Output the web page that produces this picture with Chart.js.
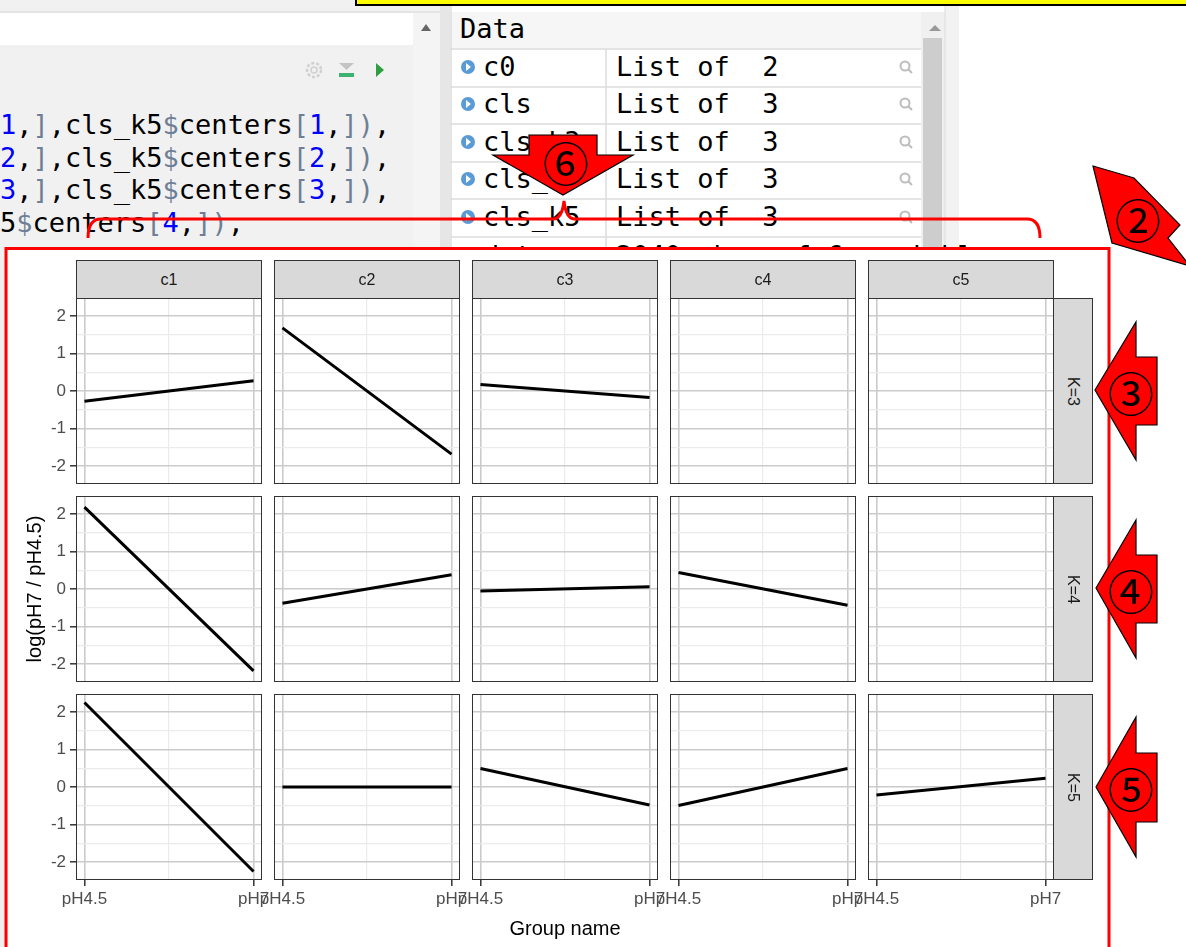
<!DOCTYPE html>
<html><head><meta charset="utf-8">
<script src="https://cdn.jsdelivr.net/npm/chart.js@4"></script>
<style>
body{margin:0;width:1186px;height:947px;overflow:hidden;position:relative;background:#fff;font-family:"Liberation Sans",Arial,sans-serif;}
#bg,#anno{position:absolute;left:0;top:0;}
#bg{z-index:0}
#plot{position:absolute;left:0;top:0;width:1186px;height:947px;z-index:1}
#anno{z-index:5;pointer-events:none}
.cv{position:absolute}
.pb{position:absolute;border:1.5px solid #333;box-sizing:border-box;pointer-events:none;z-index:3}
.strip{position:absolute;background:#d9d9d9;border:1.5px solid #333;box-sizing:border-box;color:#1a1a1a;font-size:16px;display:flex;align-items:center;justify-content:center;z-index:3}
.strip.v{writing-mode:vertical-rl}
.atitle{position:absolute;color:#000;font-size:20px;white-space:nowrap;z-index:3}
</style></head>
<body>
<svg id="bg" width="1186" height="947" xmlns="http://www.w3.org/2000/svg">
  <rect x="0" y="0" width="1186" height="947" fill="#fff"/>
  <rect x="0" y="0" width="450" height="250" fill="#f1f1f1"/>
  <rect x="0" y="13" width="413" height="32" fill="#ffffff"/>
  <line x1="0" y1="12" x2="450" y2="12" stroke="#d8d8d8"/>
  <rect x="413" y="13" width="27" height="237" fill="#f4f4f4"/>
  <polygon points="421,31 431,31 426,24" fill="#666"/>
  <rect x="440" y="0" width="10" height="250" fill="#e6e6e6"/>
  <circle cx="314" cy="70" r="7" fill="none" stroke="#d0d0d0" stroke-width="2.5" stroke-dasharray="3 2"/>
  <circle cx="314" cy="70" r="3" fill="none" stroke="#d0d0d0" stroke-width="1.5"/>
  <polygon points="339,63 354,63 346.5,70" fill="#c4c4c4"/>
  <rect x="339" y="73" width="15" height="4" fill="#3cb371"/>
  <polygon points="376,63 376,77 384,70" fill="#2e9e3e"/>
  <g font-family="DejaVu Sans Mono, monospace" font-size="27" fill="#000">
    <text x="0" y="134"><tspan fill="#0000ff">1</tspan>,<tspan fill="#6f7f96">]</tspan>,cls_k5<tspan fill="#6f7f96">$</tspan>centers<tspan fill="#6f7f96">[</tspan><tspan fill="#0000ff">1</tspan>,<tspan fill="#6f7f96">])</tspan>,</text>
    <text x="0" y="167"><tspan fill="#0000ff">2</tspan>,<tspan fill="#6f7f96">]</tspan>,cls_k5<tspan fill="#6f7f96">$</tspan>centers<tspan fill="#6f7f96">[</tspan><tspan fill="#0000ff">2</tspan>,<tspan fill="#6f7f96">])</tspan>,</text>
    <text x="0" y="199"><tspan fill="#0000ff">3</tspan>,<tspan fill="#6f7f96">]</tspan>,cls_k5<tspan fill="#6f7f96">$</tspan>centers<tspan fill="#6f7f96">[</tspan><tspan fill="#0000ff">3</tspan>,<tspan fill="#6f7f96">])</tspan>,</text>
    <text x="0" y="232">5<tspan fill="#6f7f96">$</tspan>centers<tspan fill="#6f7f96">[</tspan><tspan fill="#0000ff">4</tspan>,<tspan fill="#6f7f96">])</tspan>,</text>
  </g>
  <rect x="450" y="6" width="471" height="244" fill="#ffffff"/>
  <rect x="450" y="12" width="471" height="37" fill="#f6f6f6"/>
  <g stroke="#dddddd" stroke-width="1.5">
    <line x1="450" y1="49" x2="921" y2="49"/>
    <line x1="450" y1="87" x2="921" y2="87"/>
    <line x1="450" y1="124" x2="921" y2="124"/>
    <line x1="450" y1="162" x2="921" y2="162"/>
    <line x1="450" y1="199" x2="921" y2="199"/>
    <line x1="450" y1="237" x2="921" y2="237"/>
    <line x1="606" y1="49" x2="606" y2="250"/>
    <line x1="451" y1="6" x2="451" y2="250"/>
  </g>
  <rect x="921" y="12" width="24" height="238" fill="#f0f0f0"/>
  <rect x="923" y="38" width="19" height="212" fill="#cdcdcd"/>
  <polygon points="929,31 941,31 935,25" fill="#999"/>
  <rect x="945" y="0" width="14" height="250" fill="#f2f2f2"/>
  <line x1="945" y1="0" x2="945" y2="250" stroke="#dcdcdc"/>
  <g font-family="DejaVu Sans Mono, monospace" font-size="27" fill="#000">
    <text x="460" y="38">Data</text>
    <text x="483" y="76">c0</text><text x="616" y="76">List of&#160; 2</text>
    <text x="483" y="113">cls</text><text x="616" y="113">List of&#160; 3</text>
    <text x="483" y="151">cls_k3</text><text x="616" y="151">List of&#160; 3</text>
    <text x="483" y="188">cls_k4</text><text x="616" y="188">List of&#160; 3</text>
    <text x="483" y="226">cls_k5</text><text x="616" y="226">List of&#160; 3</text>
    <text x="483" y="265">data</text><text x="616" y="265">2040 obs. of 6 variables</text>
  </g>
  <g fill="#5b9bd5">
    <circle cx="468" cy="67" r="7"/><circle cx="468" cy="104" r="7"/><circle cx="468" cy="142" r="7"/><circle cx="468" cy="179" r="7"/><circle cx="468" cy="217" r="7"/>
  </g>
  <g fill="#fff">
    <polygon points="466,63 466,71 471,67"/><polygon points="466,100 466,108 471,104"/><polygon points="466,138 466,146 471,142"/><polygon points="466,175 466,183 471,179"/><polygon points="466,213 466,221 471,217"/>
  </g>
  <g stroke="#bdbdbd" stroke-width="2" fill="none">
    <circle cx="905" cy="66" r="4.5"/><line x1="908" y1="69" x2="912" y2="73"/>
    <circle cx="905" cy="103" r="4.5"/><line x1="908" y1="106" x2="912" y2="110"/>
    <circle cx="905" cy="141" r="4.5"/><line x1="908" y1="144" x2="912" y2="148"/>
    <circle cx="905" cy="178" r="4.5"/><line x1="908" y1="181" x2="912" y2="185"/>
    <circle cx="905" cy="216" r="4.5"/><line x1="908" y1="219" x2="912" y2="223"/>
  </g>
  <rect x="355" y="0" width="831" height="4" fill="#ffff00"/>
  <line x1="355" y1="5" x2="1186" y2="5" stroke="#000" stroke-width="2"/>
  <line x1="356" y1="0" x2="356" y2="5" stroke="#000" stroke-width="2"/>
  <rect x="0" y="247" width="6" height="700" fill="#f0f0f0"/>
  <rect x="6" y="249" width="1104" height="698" fill="#ffffff"/>
</svg>
<div id="plot"></div>
<svg id="anno" width="1186" height="947" xmlns="http://www.w3.org/2000/svg">
  <rect x="6" y="248.5" width="1103" height="720" fill="none" stroke="#ff0000" stroke-width="3"/>
  <path d="M88,238 Q88,219 101,219 L553,219 Q562,219 564,201 Q566,219 575,219 L1027,219 Q1040,219 1040,238" fill="none" stroke="#ff0000" stroke-width="3"/>
  <g fill="#ff0000" stroke="#000" stroke-width="1.2">
    <polygon points="529,135 597,135 597,155 633,155 563,195 493,155 529,155"/>
    <polygon points="1095,390 1136,322 1136,357 1157,357 1157,425 1136,425 1136,460"/>
    <polygon points="1096,588 1136,520 1136,555 1157,555 1157,623 1136,623 1136,658"/>
    <polygon points="1096,787 1136,717 1136,753 1157,753 1157,822 1136,822 1136,857"/>
    <polygon points="1093,166 1134,178 1180,225 1168,238 1190,266 1112,243"/>
  </g>
  <g font-family="Noto Sans CJK JP, sans-serif" font-size="46" fill="#000" text-anchor="middle" dominant-baseline="central">
    <text x="566" y="161">⑥</text>
    <text x="1138" y="218">②</text>
    <text x="1131" y="391">③</text>
    <text x="1131" y="589">④</text>
    <text x="1131" y="787">⑤</text>
  </g>
</svg>
<script>
// ---- data ----
const groups = ['pH4.5', 'pH7'];
const clusters = ['c1', 'c2', 'c3', 'c4', 'c5'];
const kLabels = ['K=3', 'K=4', 'K=5'];
const k3_pH45 = [-0.27, 1.68, 0.17, null, null];
const k3_pH7  = [0.27, -1.68, -0.17, null, null];
const k4_pH45 = [2.18, -0.38, -0.05, 0.44, null];
const k4_pH7  = [-2.18, 0.38, 0.06, -0.43, null];
const k5_pH45 = [2.25, 0.00, 0.49, -0.49, -0.21];
const k5_pH7  = [-2.25, 0.00, -0.48, 0.49, 0.23];
const yMajorTicks = [-2, -1, 0, 1, 2];
const yMinorTicks = [-1.5, -0.5, 0.5, 1.5];
const xMinorTicks = [0.5];
const yAxisTitle = 'log(pH7 / pH4.5)';
const xAxisTitle = 'Group name';

// ---- build ----
const rows = [
  {start: k3_pH45, end: k3_pH7},
  {start: k4_pH45, end: k4_pH7},
  {start: k5_pH45, end: k5_pH7}
];
const allVals = [].concat(k3_pH45, k3_pH7, k4_pH45, k4_pH7, k5_pH45, k5_pH7).filter(v => v !== null);
const yLim = Math.max(...allVals.map(Math.abs)) * 1.1;
const xMaj = groups.map((g, i) => i);
const xLo = -0.05 * (xMaj.length - 1), xHi = (xMaj.length - 1) * 1.05;
const yAll = yMajorTicks.concat(yMinorTicks).sort((a, b) => a - b);
const xAll = xMaj.concat(xMinorTicks).sort((a, b) => a - b);

const MAJ = '#cbcbcb', MIN = '#ebebeb';
const PL = 76, PT = 298, PW = 186, PH = 186, GAP = 12;
const plot = document.getElementById('plot');
Chart.defaults.font.family = '"Liberation Sans", Arial, sans-serif';

function isMajorY(v) { return yMajorTicks.includes(v); }
function isMajorX(v) { return xMaj.includes(v); }
function zeroPad(ax) { ax.paddingTop = 0; ax.paddingBottom = 0; ax.paddingLeft = 0; ax.paddingRight = 0; }

function makePanel(r, c) {
  const L = PL + c * (PW + GAP), T = PT + r * (PH + GAP);
  const yW = c === 0 ? 76 : 0;
  const xH = r === 2 ? 44 : 0;
  const padL = (r === 2 && c > 0) ? 30 : 0;
  const padR = r === 2 ? 30 : 0;
  const cv = document.createElement('canvas');
  cv.width = yW + padL + PW + padR; cv.height = PH + xH;
  cv.className = 'cv';
  cv.style.left = (L - yW - padL) + 'px'; cv.style.top = T + 'px';
  cv.style.width = cv.width + 'px'; cv.style.height = cv.height + 'px';
  plot.appendChild(cv);
  const s = rows[r].start[c], e = rows[r].end[c];
  const datasets = (s === null) ? [] : [{
    data: [{x: xMaj[0], y: s}, {x: xMaj[1], y: e}],
    borderColor: '#000', borderWidth: 3, pointRadius: 0, tension: 0, fill: false
  }];
  new Chart(cv, {
    type: 'line',
    data: {datasets},
    options: {
      responsive: false, animation: false, devicePixelRatio: 1,
      layout: {padding: {left: padL, right: padR, top: 0, bottom: 0}, autoPadding: false},
      plugins: {legend: {display: false}, tooltip: {enabled: false}},
      scales: {
        x: {
          type: 'linear', min: xLo, max: xHi,
          afterBuildTicks: ax => { ax.ticks = xAll.map(v => ({value: v})); },
          afterFit: ax => { ax.height = xH; zeroPad(ax); },
          border: {display: false},
          grid: {
            color: ctx => isMajorX(ctx.tick.value) ? MAJ : MIN,
            lineWidth: ctx => isMajorX(ctx.tick.value) ? 1.6 : 1.2,
            drawTicks: r === 2, tickLength: 6, tickWidth: 1.5,
            tickColor: ctx => isMajorX(ctx.tick.value) ? '#333' : 'rgba(0,0,0,0)'
          },
          ticks: {
            display: r === 2, autoSkip: false, maxRotation: 0, minRotation: 0, padding: 3,
            color: '#4d4d4d', font: {size: 17},
            callback: v => isMajorX(v) ? groups[v] : ''
          }
        },
        y: {
          type: 'linear', min: -yLim, max: yLim,
          afterBuildTicks: ax => { ax.ticks = yAll.map(v => ({value: v})); },
          afterFit: ax => { ax.width = yW; zeroPad(ax); },
          border: {display: false},
          grid: {
            color: ctx => isMajorY(ctx.tick.value) ? MAJ : MIN,
            lineWidth: ctx => isMajorY(ctx.tick.value) ? 1.6 : 1.2,
            drawTicks: c === 0, tickLength: 6, tickWidth: 1.5,
            tickColor: ctx => isMajorY(ctx.tick.value) ? '#333' : 'rgba(0,0,0,0)'
          },
          ticks: {
            display: c === 0, autoSkip: false, padding: 4,
            color: '#4d4d4d', font: {size: 17},
            callback: v => isMajorY(v) ? String(v) : ''
          }
        }
      }
    }
  });
  const pb = document.createElement('div');
  pb.className = 'pb';
  Object.assign(pb.style, {left: L + 'px', top: T + 'px', width: PW + 'px', height: PH + 'px'});
  plot.appendChild(pb);
}

for (let r = 0; r < kLabels.length; r++)
  for (let c = 0; c < clusters.length; c++) makePanel(r, c);

clusters.forEach((name, c) => {
  const d = document.createElement('div');
  d.className = 'strip'; d.textContent = name;
  Object.assign(d.style, {left: (PL + c * (PW + GAP)) + 'px', top: (PT - 38) + 'px', width: PW + 'px', height: '39px'});
  plot.appendChild(d);
});
kLabels.forEach((name, r) => {
  const d = document.createElement('div');
  d.className = 'strip v'; d.textContent = name;
  Object.assign(d.style, {left: (PL + 4 * (PW + GAP) + PW - 1) + 'px', top: (PT + r * (PH + GAP)) + 'px', width: '40px', height: PH + 'px'});
  plot.appendChild(d);
});
const yt = document.createElement('div');
yt.className = 'atitle'; yt.textContent = yAxisTitle;
Object.assign(yt.style, {left: '34px', top: (PT + (3 * PH + 2 * GAP) / 2) + 'px', transform: 'translate(-50%,-50%) rotate(-90deg)'});
plot.appendChild(yt);
const xt = document.createElement('div');
xt.className = 'atitle'; xt.textContent = xAxisTitle;
Object.assign(xt.style, {left: (PL + (5 * PW + 4 * GAP) / 2) + 'px', top: '928px', transform: 'translate(-50%,-50%)'});
plot.appendChild(xt);
</script>
</body></html>
